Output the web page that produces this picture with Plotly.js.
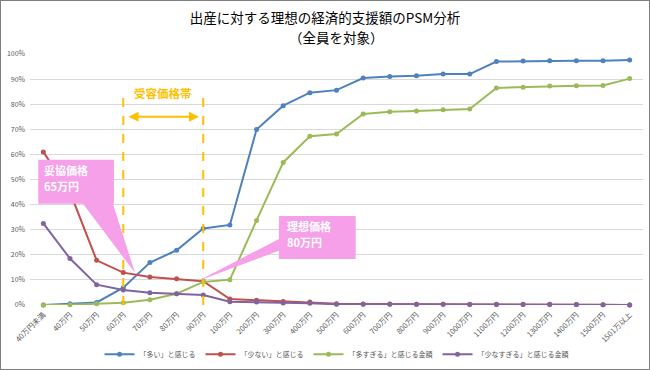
<!DOCTYPE html>
<html><head><meta charset="utf-8">
<script src="https://cdn.plot.ly/plotly-3.0.1.min.js"></script>
<style>
html,body{margin:0;padding:0;background:#fff;}
#chart{width:648px;height:368px;border:1px solid #7f7f7f;}
</style></head>
<body><div id="chart"></div>
<script>
const categories = ['40万円未満','40万円','50万円','60万円','70万円','80万円','90万円','100万円','200万円','300万円','400万円','500万円','600万円','700万円','800万円','900万円','1000万円','1100万円','1200万円','1300万円','1400万円','1500万円','1501万以上'];
const seriesNames = ['「多い」と感じる','「少ない」と感じる','「多すぎる」と感じる金額','「少なすぎる」と感じる金額'];
const tooHigh   = [0, 0.5, 1.0, 6.9, 16.9, 21.8, 30.5, 31.9, 69.9, 79.4, 84.6, 85.6, 90.4, 91.0, 91.3, 92.0, 92.0, 97.0, 97.2, 97.3, 97.3, 97.3, 97.6];
const tooLow    = [61.0, 45.0, 17.8, 12.9, 11.2, 10.5, 9.5, 2.4, 1.9, 1.4, 1.2, 0.5, 0.4, 0.4, 0.3, 0.3, 0.2, 0.2, 0.2, 0.2, 0.2, 0.1, 0];
const wayTooHigh= [0, 0.1, 0.5, 0.9, 2.1, 4.5, 9.2, 10.1, 33.7, 56.8, 67.2, 68.1, 76.1, 77.0, 77.3, 77.8, 78.1, 86.5, 86.8, 87.3, 87.4, 87.5, 90.2];
const wayTooLow = [32.5, 18.5, 8.1, 6.0, 4.9, 4.5, 4.0, 1.3, 1.2, 0.8, 0.7, 0.3, 0.3, 0.3, 0.3, 0.3, 0.3, 0.3, 0.3, 0.3, 0.2, 0.1, 0];
const colors = ['#4F81BD','#C0504D','#9BBB59','#8064A2'];
const yTicks = [0,10,20,30,40,50,60,70,80,90,100];
const titleLine1 = '出産に対する理想の経済的支援額のPSM分析';
const titleLine2 = '（全員を対象）';

const allSeries = [tooHigh, tooLow, wayTooHigh, wayTooLow];
const traces = allSeries.map((vals,i)=>({
  type:'scatter', mode:'lines+markers', x:categories, y:vals, name:seriesNames[i],
  line:{color:colors[i], width:2}, marker:{color:colors[i], size:5}, cliponaxis:false
}));

const gold = '#FFC000';
const pink = '#F5A0E8';
const accLow = categories.indexOf('60万円'), accHigh = categories.indexOf('90万円');

const shapes = [
  {type:'line', xref:'x', yref:'y', x0:accLow, x1:accLow, y0:0, y1:86, line:{color:gold, width:2, dash:'dash'}},
  {type:'line', xref:'x', yref:'y', x0:accHigh, x1:accHigh, y0:0, y1:86, line:{color:gold, width:2, dash:'dash'}},
  {type:'path', xref:'x', yref:'y', fillcolor:pink, line:{width:0},
   path:'M -0.19 57.9 L 2.65 57.9 L 2.65 40.3 L 2.61 40.3 L 3.44 12.8 L 1.49 40.3 L -0.19 40.3 Z'},
  {type:'path', xref:'x', yref:'y', fillcolor:pink, line:{width:0},
   path:'M 8.84 35.5 L 11.72 35.5 L 11.72 18.3 L 8.84 18.3 L 8.84 21.6 L 5.8 9.6 L 8.84 26.3 Z'}
];

const H = 368, T = 53, B = 64;
const jp = '"Noto Sans CJK JP", sans-serif';
const annFont = {family:jp, size:11, color:'#fff'};
const annotations = [
  {xref:'paper', yref:'paper', x:0.5, y:(H-B-36)/(H-T-B), xanchor:'center', yanchor:'middle', text:titleLine2,
   showarrow:false, font:{family:jp, size:13.5, color:'#000'}},
  {xref:'x', yref:'y', x:4.5, y:84.5, text:'<b>受容価格帯</b>', showarrow:false,
   font:{family:jp, size:11.5, color:gold}},
  {xref:'x', yref:'y', axref:'x', ayref:'y', x:5.84, y:75, ax:3.14, ay:75, text:'',
   showarrow:true, arrowhead:2, startarrowhead:2, arrowside:'end+start', arrowcolor:gold, arrowwidth:2, arrowsize:1},
  {xref:'x', yref:'y', x:-0.05, y:53.8, xanchor:'left', yanchor:'middle', text:'<b>妥協価格</b>', showarrow:false, font:annFont},
  {xref:'x', yref:'y', x:-0.05, y:47.3, xanchor:'left', yanchor:'middle', text:'<b>65万円</b>', showarrow:false, font:annFont},
  {xref:'x', yref:'y', x:9.05, y:31.5, xanchor:'left', yanchor:'middle', text:'<b>理想価格</b>', showarrow:false, font:annFont},
  {xref:'x', yref:'y', x:9.05, y:25.2, xanchor:'left', yanchor:'middle', text:'<b>80万円</b>', showarrow:false, font:annFont}
];

const layout = {
  width:648, height:H,
  margin:{l:29, r:6, t:T, b:B},
  paper_bgcolor:'#fff', plot_bgcolor:'#fff',
  font:{family:jp, color:'#595959'},
  title:{text:titleLine1, x:0.5, xanchor:'center',
    yref:'container', y:1-17/H, yanchor:'middle', font:{size:13.5, color:'#000', family:jp}},
  xaxis:{type:'category', range:[-0.5, categories.length-0.5], tickangle:-45, tickfont:{size:7.5, color:'#595959'},
    showgrid:false, zeroline:false, showline:false, ticks:'', fixedrange:true, ticklabelstandoff:3},
  yaxis:{range:[0,100], tickvals:yTicks, ticktext:yTicks.map(v=>v+'%'), tickfont:{size:7, color:'#595959'},
    showgrid:true, gridcolor:'#d9d9d9', gridwidth:1, zeroline:false, showline:false, ticks:'', ticklabelstandoff:4},
  showlegend:true,
  legend:{orientation:'h', x:0.5, xanchor:'center', yref:'container', y:0.04, yanchor:'middle',
    font:{size:7, color:'#595959'}, itemwidth:30, tracegroupgap:0},
  shapes:shapes, annotations:annotations
};

Plotly.newPlot('chart', traces, layout, {displayModeBar:false, staticPlot:true});
</script></body></html>
